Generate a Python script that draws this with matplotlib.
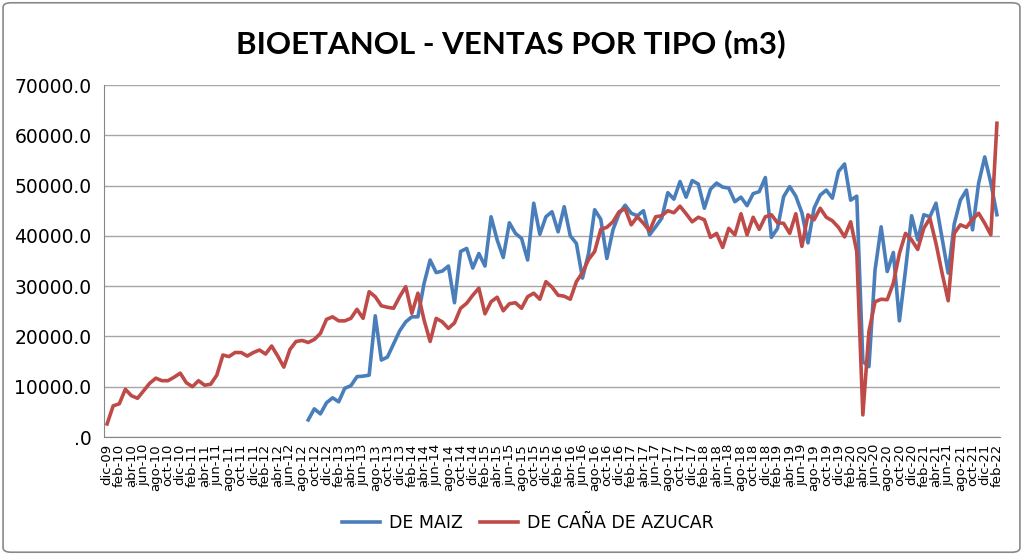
import matplotlib
matplotlib.use("Agg")
import matplotlib.pyplot as plt
import numpy as np
from matplotlib.patches import FancyBboxPatch
from matplotlib.ticker import FuncFormatter

# monthly labels dic-09 .. feb-22
meses = ["ene", "feb", "mar", "abr", "may", "jun", "jul", "ago", "sep", "oct", "nov", "dic"]
labels = ["dic-09"]
for yr in range(10, 23):
    for m in meses:
        labels.append(f"{m}-{yr:02d}")
labels = labels[:147]

# DE CAÑA DE AZUCAR (dic-09 .. feb-22)
cana = [2600, 6200, 6600, 9500, 8200, 7700, 9200, 10700, 11700, 11200, 11200, 11900,
        12700, 10800, 10000, 11200, 10300, 10500, 12300, 16300, 16000, 16800, 16800, 16100,
        16800, 17300, 16500, 18100, 16100, 13900, 17400, 19000, 19200, 18800, 19400, 20600,
        23400, 23900, 23100, 23100, 23600, 25400, 23600, 28900, 27900, 26100, 25800, 25600,
        27900, 29900, 24600, 28600, 23300, 19000, 23600, 22900, 21600, 22700, 25600, 26600,
        28200, 29600, 24500, 26900, 27800, 25100, 26500, 26700, 25600, 27900, 28600, 27400,
        30900, 29800, 28200, 28000, 27400, 30900, 32700, 35300, 36900, 41300, 41700, 42800,
        44800, 45400, 42200, 43800, 42500, 41000, 43800, 44000, 45000, 44600, 45900, 44400,
        42800, 43700, 43200, 39700, 40500, 37700, 41500, 40200, 44400, 40200, 43700, 41300,
        43800, 44200, 42600, 42500, 40500, 44400, 37900, 44200, 43200, 45500, 43700, 43000,
        41700, 39800, 42800, 36900, 4400, 21000, 26900, 27400, 27300, 30600, 36500, 40500,
        39200, 37300, 41500, 43500, 38500, 32600, 27100, 40500, 42200, 41700, 43300, 44500,
        42500, 40200, 62400]

# DE MAIZ (sep-12 .. feb-22)
maiz_inicio = 33
maiz = [3400, 5600, 4600, 6800, 7800, 7000, 9700, 10200, 12000, 12100, 12300, 24100,
        15300, 15900, 18500, 21100, 22900, 23900, 23900, 30500, 35200, 32700, 33000, 34000,
        26700, 36900, 37500, 33600, 36500, 34000, 43800, 39200, 35700, 42600, 40500, 39500,
        35200, 46500, 40300, 43800, 44800, 40800, 45800, 40000, 38500, 31600, 36500, 45200,
        43300, 35500, 41200, 44400, 46100, 44500, 44000, 45000, 40200, 41800, 43500, 48600,
        47300, 50800, 47700, 51000, 50300, 45500, 49300, 50500, 49700, 49500, 46800, 47700,
        46000, 48400, 48800, 51600, 39700, 41500, 47800, 49800, 47900, 44600, 38600, 45500,
        48100, 49100, 47500, 52800, 54300, 47100, 47900, 15000, 14000, 33200, 41800, 32900,
        36700, 23100, 33200, 44000, 39200, 44200, 43800, 46500, 39500, 32600, 42400, 47100,
        49100, 41200, 50500, 55700, 50500, 44200]

x = np.arange(len(labels))
y_maiz = np.full(len(labels), np.nan)
y_maiz[maiz_inicio:maiz_inicio + len(maiz)] = maiz

fig = plt.figure(figsize=(10.23, 5.55), dpi=100)
ax = fig.add_axes([0.1017, 0.2126, 0.8758, 0.6342])

ax.plot(x, y_maiz, color="#4a7ebb", lw=2.6, label="DE MAIZ", solid_joinstyle="round")
ax.plot(x, cana, color="#be4b48", lw=2.6, label="DE CAÑA DE AZUCAR", solid_joinstyle="round")

ax.set_xlim(-0.5, len(labels) - 0.5)
ax.set_ylim(0, 70000)
ax.set_yticks(np.arange(0, 70001, 10000))
ax.yaxis.set_major_formatter(FuncFormatter(lambda v, p: ".0" if v == 0 else f"{v:.1f}"))
ax.set_xticks(x[::2])
ax.set_xticklabels(labels[::2], rotation=90, fontsize=9.5)
ax.tick_params(axis="y", length=0, pad=9, labelsize=13.5)
ax.tick_params(axis="x", length=0, pad=5)

ax.grid(axis="y", color="#a6a6a6", lw=1.0)
ax.set_axisbelow(True)
for s in ["top", "right"]:
    ax.spines[s].set_visible(False)
for s in ["left", "bottom"]:
    ax.spines[s].set_color("#868686")

fig.text(0.4995, 0.922, "BIOETANOL - VENTAS POR TIPO (m3)", ha="center", va="center",
         fontsize=22.5, fontweight="bold", family="Lato")

fig.legend(loc="center", bbox_to_anchor=(0.516, 0.058), ncol=2, frameon=False,
           fontsize=12.5, handlelength=2.2, handletextpad=0.5, columnspacing=1.0)

fig.patches.append(FancyBboxPatch((0.003, 0.005), 0.994, 0.99,
                                  boxstyle="round,pad=0,rounding_size=0.008",
                                  transform=fig.transFigure, fill=False,
                                  ec="#898989", lw=1.2))

fig.savefig("out.png", dpi=100)
